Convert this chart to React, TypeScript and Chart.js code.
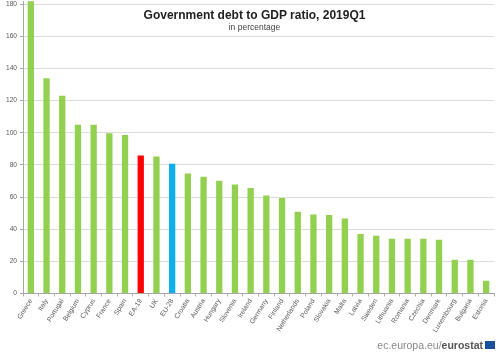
import React, { useEffect, useRef } from "react";
import { Chart, registerables } from "chart.js";

Chart.register(...registerables);

const countries = ["Greece","Italy","Portugal","Belgium","Cyprus","France","Spain","EA-19","UK","EU-28","Croatia","Austria","Hungary","Slovenia","Ireland","Germany","Finland","Netherlands","Poland","Slovakia","Malta","Latvia","Sweden","Lithuania","Romania","Czechia","Denmark","Luxembourg","Bulgaria","Estonia"];
const debtRatio = [181.9,134,123,105,105,99.7,98.7,85.9,85.2,80.7,74.6,72.7,70.2,67.9,65.6,61,59.4,50.9,49.2,48.9,46.7,37,36,34,34,34,33.5,21,21,8];
const yTicks = [0,20,40,60,80,100,120,140,160,180];
const titleText = "Government debt to GDP ratio, 2019Q1";
const subtitleText = "in percentage";
const sourcePlain = "ec.europa.eu/";
const sourceBold = "eurostat";

const barColor = (label: string) => label === "EA-19" ? "#ff0000" : label === "EU-28" ? "#0fb0ea" : "#92d050";
const font = "'Liberation Sans', Arial, sans-serif";

export default function App() {
  const ref = useRef<HTMLCanvasElement>(null);
  useEffect(() => {
    document.body.style.margin = "0";
    const chart = new Chart(ref.current!, {
      type: "bar",
      data: {
        labels: countries,
        datasets: [{ data: debtRatio, backgroundColor: countries.map(barColor), barPercentage: 0.8, categoryPercentage: 0.5 }],
      },
      options: {
        animation: false,
        responsive: false,
        layout: { padding: { top: 1, right: 6, left: 0, bottom: 0 } },
        plugins: { legend: { display: false }, tooltip: { enabled: false } },
        scales: {
          x: {
            afterFit: (s: any) => { s.height = 59.5; s.paddingLeft = 0; s.paddingRight = 0; },
            grid: {
              color: (c: any) => (c.index === countries.length ? "#d9d9d9" : "rgba(0,0,0,0)"),
              tickColor: "#b0b0b0", tickLength: 3,
            },
            border: { color: "#a6a6a6" },
            ticks: { autoSkip: false, minRotation: 58, maxRotation: 58, padding: 1, color: "#595959", font: { family: font, size: 6.8 } },
          },
          y: {
            min: 0, max: 182,
            afterFit: (s: any) => { s.width = 23; s.paddingTop = 0; s.paddingBottom = 0; },
            afterBuildTicks: (s: any) => { s.ticks = yTicks.map((value) => ({ value })); },
            grid: { color: "#dcdcdc", tickColor: "#a6a6a6", tickLength: 3 },
            border: { color: "#a6a6a6" },
            ticks: { stepSize: 20, padding: 3, color: "#595959", font: { family: font, size: 6.6 } },
          },
        },
      },
    });
    return () => chart.destroy();
  }, []);
  return (
    <div style={{ position: "relative", width: 500, height: 353, fontFamily: font, overflow: "hidden", background: "#fff" }}>
      <canvas ref={ref} width={500} height={353} style={{ display: "block", filter: "blur(0.3px)" }} />
      <div style={{ position: "absolute", left: 0, width: 509, top: 8, textAlign: "center", fontWeight: 700, fontSize: 12, color: "#222", whiteSpace: "nowrap" }}>{titleText}</div>
      <div style={{ position: "absolute", left: 0, width: 509, top: 22, textAlign: "center", fontSize: 8.5, color: "#444", whiteSpace: "nowrap" }}>{subtitleText}</div>
      <div style={{ position: "absolute", right: 17, top: 339, fontSize: 10.5, color: "#8a8a8a", whiteSpace: "nowrap" }}>{sourcePlain}<b style={{ color: "#555" }}>{sourceBold}</b></div>
      <div style={{ position: "absolute", left: 485, top: 341, width: 10, height: 8, background: "#1a4f9c" }} />
    </div>
  );
}
